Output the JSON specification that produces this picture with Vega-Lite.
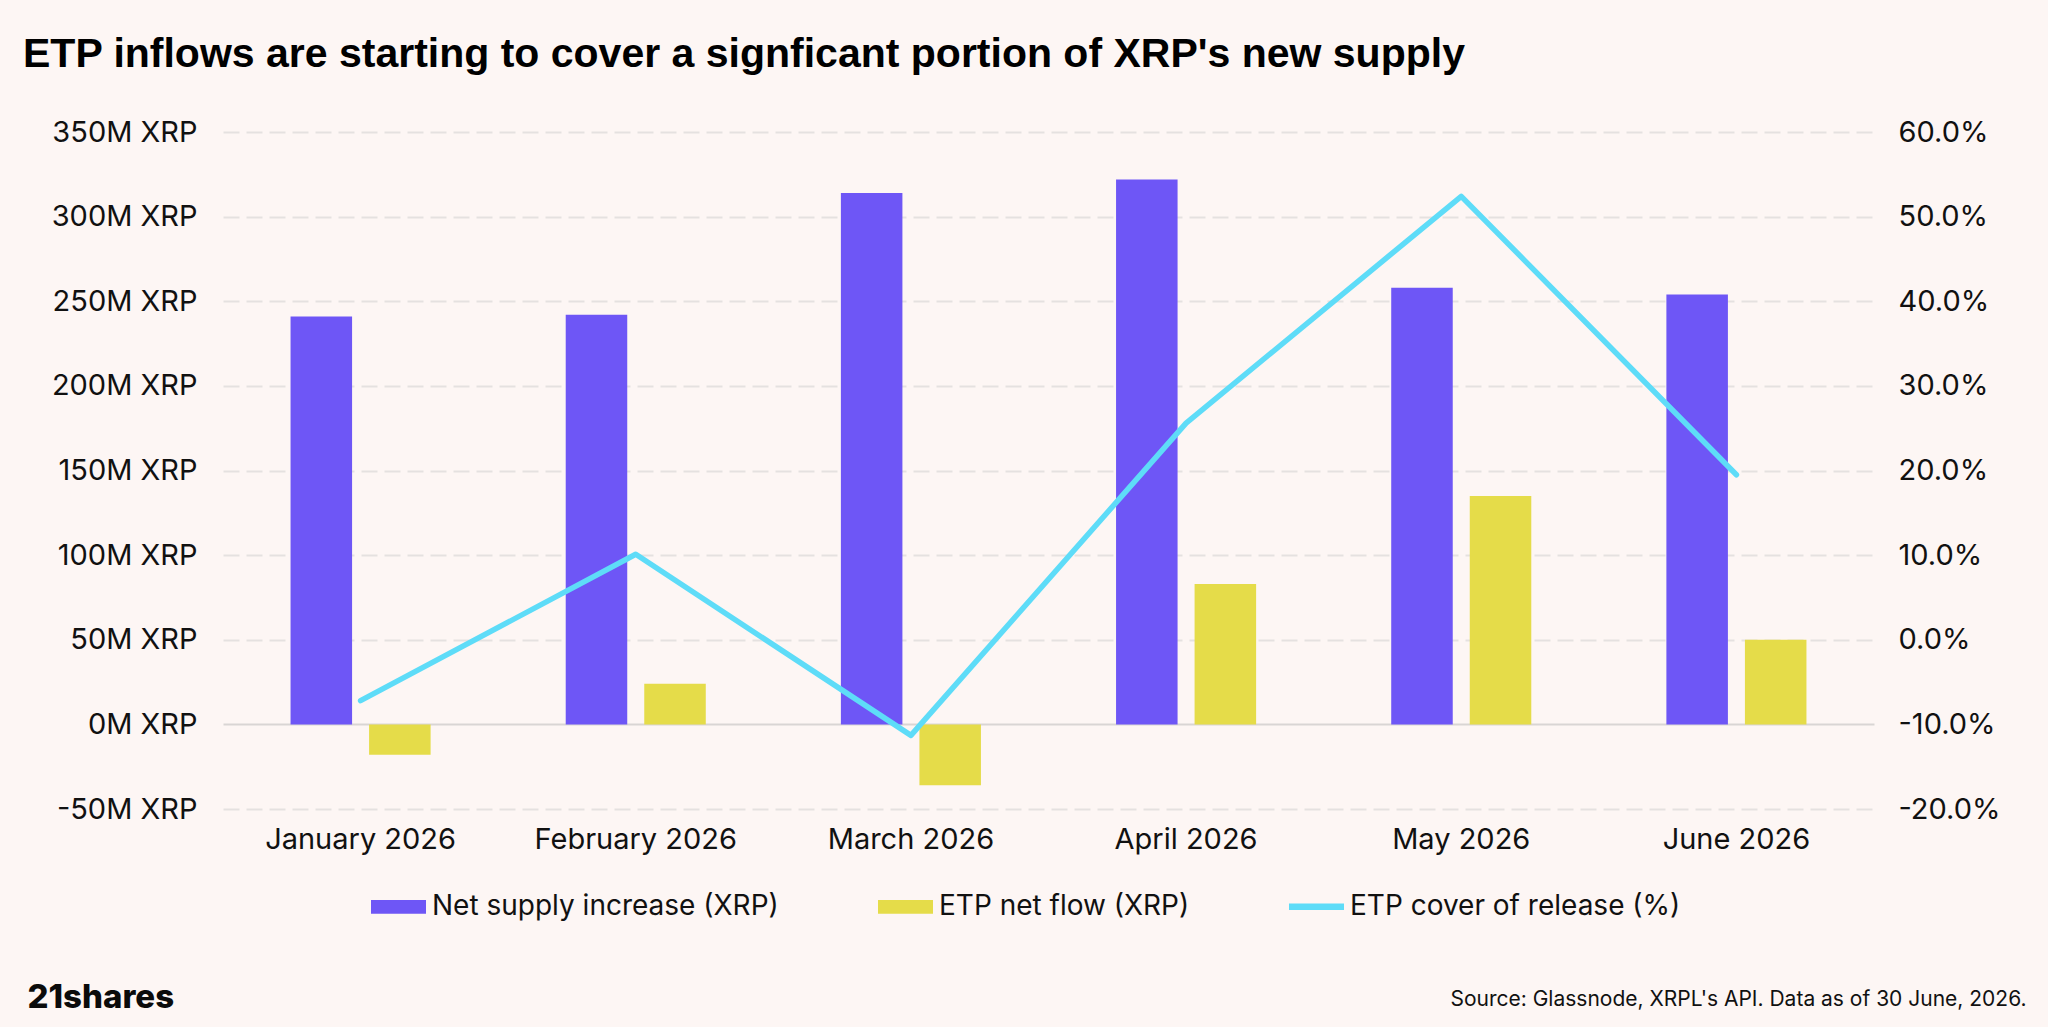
{
  "$schema": "https://vega.github.io/schema/vega-lite/v6.json",
  "width": 1651,
  "height": 677,
  "autosize": {"type": "none"},
  "padding": {"left": 223, "top": 132, "right": 174, "bottom": 218},
  "background": "#FDF6F4",
  "title": {
    "text": "ETP inflows are starting to cover a signficant portion of XRP's new supply",
    "anchor": "start",
    "frame": "group",
    "dx": -200,
    "dy": -38,
    "font": "Liberation Sans",
    "fontSize": 41,
    "fontWeight": "bold",
    "color": "#000000"
  },
  "datasets": {
    "bars": [
      {"month": "January 2026", "series": "Net supply increase (XRP)", "value": 241},
      {"month": "January 2026", "series": "ETP net flow (XRP)", "value": -18},
      {"month": "February 2026", "series": "Net supply increase (XRP)", "value": 242},
      {"month": "February 2026", "series": "ETP net flow (XRP)", "value": 24},
      {"month": "March 2026", "series": "Net supply increase (XRP)", "value": 314},
      {"month": "March 2026", "series": "ETP net flow (XRP)", "value": -36},
      {"month": "April 2026", "series": "Net supply increase (XRP)", "value": 322},
      {"month": "April 2026", "series": "ETP net flow (XRP)", "value": 83},
      {"month": "May 2026", "series": "Net supply increase (XRP)", "value": 258},
      {"month": "May 2026", "series": "ETP net flow (XRP)", "value": 135},
      {"month": "June 2026", "series": "Net supply increase (XRP)", "value": 254},
      {"month": "June 2026", "series": "ETP net flow (XRP)", "value": 50}
    ],
    "cover": [
      {"month": "January 2026", "cover": -0.072},
      {"month": "February 2026", "cover": 0.101},
      {"month": "March 2026", "cover": -0.113},
      {"month": "April 2026", "cover": 0.256},
      {"month": "May 2026", "cover": 0.524},
      {"month": "June 2026", "cover": 0.195}
    ]
  },
  "config": {
    "view": {"stroke": null},
    "font": "Inter",
    "axis": {"labelFont": "Inter", "labelColor": "#111111", "titleFont": "Inter", "titleColor": "#111111", "labelLimit": 0},
    "legend": {"labelFont": "Inter", "labelColor": "#111111", "labelLimit": 0}
  },
  "layer": [
    {
      "data": {"name": "bars"},
      "mark": {"type": "bar"},
      "encoding": {
        "x": {
          "field": "month",
          "type": "nominal",
          "sort": ["January 2026", "February 2026", "March 2026", "April 2026", "May 2026", "June 2026"],
          "scale": {"paddingInner": 0.491, "paddingOuter": 0.2455},
          "axis": {
            "title": null,
            "labelAngle": 0,
            "labelFontSize": 29,
            "labelPadding": 16,
            "labelLimit": 0,
            "ticks": false,
            "domain": false
          }
        },
        "xOffset": {
          "field": "series",
          "type": "nominal",
          "sort": ["Net supply increase (XRP)", "ETP net flow (XRP)"],
          "scale": {"paddingInner": 0.2166, "paddingOuter": 0}
        },
        "y": {
          "field": "value",
          "type": "quantitative",
          "stack": null,
          "scale": {"domain": [-50, 350], "nice": false},
          "axis": {
            "values": [-50, 0, 50, 100, 150, 200, 250, 300, 350],
            "labelExpr": "datum.value + 'M XRP'",
            "labelFontSize": 29,
            "labelPadding": 26,
            "ticks": false,
            "domain": false,
            "gridWidth": 2,
            "gridColor": {"condition": {"test": "datum.value === 0", "value": "#D9D5D4"}, "value": "#E5E1E0"},
            "gridDash": {"condition": {"test": "datum.value === 0", "value": []}, "value": [16, 7]},
            "title": "21shares",
            "titleAngle": 0,
            "titleAlign": "left",
            "titleBaseline": "alphabetic",
            "titleX": -196,
            "titleY": 875,
            "titleFontSize": 33,
            "titleFontWeight": 800,
            "titleColor": "#0B0B0B"
          }
        },
        "color": {
          "field": "series",
          "type": "nominal",
          "scale": {
            "domain": ["Net supply increase (XRP)", "ETP net flow (XRP)", "ETP cover of release (%)"],
            "range": ["#6E56F6", "#E5DC49", "#5EDCF8"]
          },
          "legend": {
            "title": null,
            "orient": "none",
            "legendX": 148,
            "legendY": 747,
            "direction": "horizontal",
            "columnPadding": 99,
            "labelOffset": 6,
            "labelFontSize": 28,
            "labelLimit": 0,
            "symbolSize": 3025,
            "symbolStrokeWidth": 0,
            "encode": {
              "symbols": {
                "update": {
                  "shape": {"signal": "datum.value === 'ETP cover of release (%)' ? 'M-1,-0.12H1V0.12H-1Z' : 'M-1,-0.25H1V0.25H-1Z'"},
                  "fill": {"signal": "scale('color', datum.value)"},
                  "strokeWidth": {"value": 0},
                  "opacity": {"value": 1}
                }
              }
            }
          }
        }
      }
    },
    {
      "data": {"name": "cover"},
      "mark": {"type": "line", "strokeWidth": 5.5, "strokeCap": "round", "strokeJoin": "round"},
      "encoding": {
        "x": {
          "field": "month",
          "type": "nominal",
          "sort": ["January 2026", "February 2026", "March 2026", "April 2026", "May 2026", "June 2026"]
        },
        "y": {
          "field": "cover",
          "type": "quantitative",
          "scale": {"domain": [-0.2, 0.6], "nice": false},
          "axis": {
            "orient": "right",
            "values": [-0.2, -0.1, 0, 0.1, 0.2, 0.3, 0.4, 0.5, 0.6],
            "labelExpr": "replace(format(datum.value, '.1%'), '−', '-')",
            "labelFontSize": 29,
            "labelPadding": 24,
            "ticks": false,
            "domain": false,
            "grid": false,
            "title": "Source: Glassnode, XRPL's API. Data as of 30 June, 2026.",
            "titleAngle": 0,
            "titleAlign": "right",
            "titleBaseline": "alphabetic",
            "titleX": 152,
            "titleY": 873,
            "titleFontSize": 21,
            "titleFontWeight": 400
          }
        },
        "color": {"datum": "ETP cover of release (%)"}
      }
    }
  ],
  "resolve": {"scale": {"y": "independent"}}
}
